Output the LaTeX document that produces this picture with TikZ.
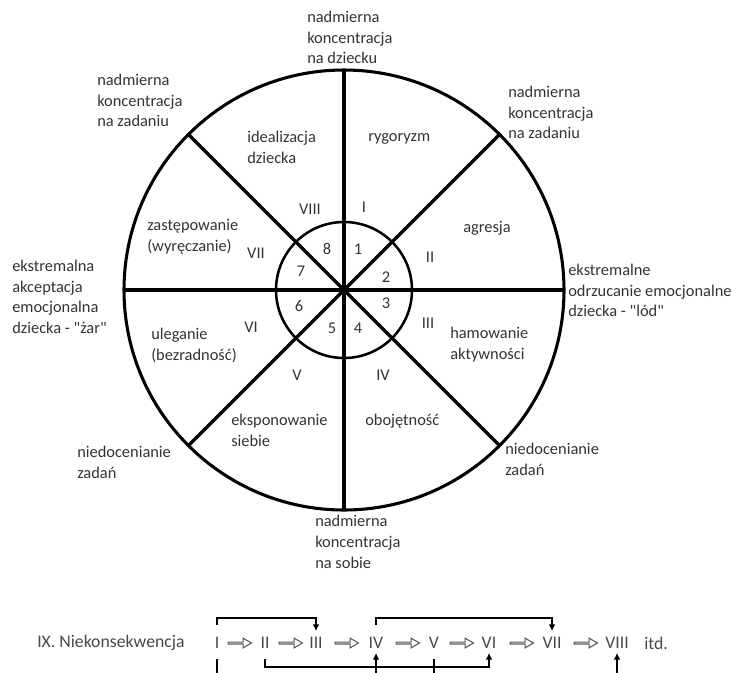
\documentclass[tikz,border=0pt]{standalone}
\usepackage{fontspec}
\setmainfont{Carlito}[Ligatures=TeXOff]
\usetikzlibrary{arrows.meta,shapes.arrows,calc}
\begin{document}
\begin{tikzpicture}[x=0.75pt,y=-0.75pt,
  lbl/.style={inner sep=0pt, anchor=north west, align=left, text=black!80,
    font=\fontsize{12.3}{15.5}\selectfont},
  num/.style={inner sep=0pt, text=black!80, font=\fontsize{12.3}{15.5}\selectfont},
  seq/.style={inner sep=0pt, text=black!72, font=\fontsize{13.3}{16}\selectfont},
  heavy/.style={line width=2.6pt},
  hollow/.style={single arrow, draw=black!65, fill=white, line width=0.8pt,
    minimum height=17.5pt, minimum width=7.3pt, single arrow head extend=1.6pt,
    single arrow tip angle=60, inner sep=0pt},
  bracket/.style={line width=0.9pt, -{Latex[length=5pt,width=5pt]}}
]
\useasboundingbox (0,0) rectangle (745,672);
\clip (0,0) rectangle (745,672);

% ---- wheel ----
\coordinate (O) at (344,290);
\draw[line width=2.3pt] (O) circle[radius=220];
\draw[line width=1.9pt] (O) circle[radius=68];
\coordinate (E) at ($(O)+(220,0)$);
\coordinate (W) at ($(O)+(-220,0)$);
\coordinate (N) at ($(O)+(0,-220)$);
\coordinate (S) at ($(O)+(0,220)$);
\coordinate (NE) at ($(O)+(155.6,-155.6)$);
\coordinate (SW) at ($(O)+(-155.6,155.6)$);
\coordinate (NW) at ($(O)+(-155.6,-155.6)$);
\coordinate (SE) at ($(O)+(155.6,155.6)$);
\draw[heavy] (W) -- (E);
\draw[heavy] (N) -- (S);
\draw[heavy] (NW) -- (SE);
\draw[heavy] (SW) -- (NE);

% ---- outer labels ----
\node[lbl] (top) at (307,11) {nadmierna\\koncentracja\\na dziecku};
\node[lbl] (ul) at (97,74) {nadmierna\\koncentracja\\na zadaniu};
\node[lbl] (ur) at (508,86) {nadmierna\\koncentracja\\na zadaniu};
\node[lbl] (lft) at (12,260) {ekstremalna\\akceptacja\\emocjonalna\\dziecka - "żar"};
\node[lbl] (rgt) at (568,264) {ekstremalne\\odrzucanie emocjonalne\\dziecka - "lód"};
\node[lbl] (ll) at (77,446) {niedocenianie\\zadań};
\node[lbl] (lr) at (505,443) {niedocenianie\\zadań};
\node[lbl] (bot) at (315,515) {nadmierna\\koncentracja\\na sobie};

% ---- sector labels ----
\node[lbl] (s8) at (247,131) {idealizacja\\dziecka};
\node[lbl] (s1) at (368,133) {rygoryzm};
\node[lbl] (s2) at (463,221) {agresja};
\node[lbl] (s7) at (147,219) {zastępowanie\\(wyręczanie)};
\node[lbl] (s6) at (151,328) {uleganie\\(bezradność)};
\node[lbl] (s3) at (450,327) {hamowanie\\aktywności};
\node[lbl] (s5) at (231,414) {eksponowanie\\siebie};
\node[lbl] (s4) at (365,414) {obojętność};

% ---- roman numerals ----
\node[num] (r8) at (310,209) {VIII};
\node[num] (r1) at (364,207) {I};
\node[num] (r2) at (430,257) {II};
\node[num] (r3) at (428,323) {III};
\node[num] (r4) at (383,375) {IV};
\node[num] (r5) at (297,375) {V};
\node[num] (r6) at (251,327) {VI};
\node[num] (r7) at (256,253) {VII};

% ---- inner numbers ----
\node[num] (i8) at (327,249) {8};
\node[num] (i1) at (358,249) {1};
\node[num] (i2) at (386,277) {2};
\node[num] (i3) at (386,303) {3};
\node[num] (i4) at (358,328) {4};
\node[num] (i5) at (332,328) {5};
\node[num] (i6) at (299,306) {6};
\node[num] (i7) at (301,271) {7};

% ---- sequence ----
\node[seq, anchor=west] (ix) at (37,643) {IX. Niekonsekwencja};
\node[seq] (n1) at (217,643) {I};
\node[seq] (n2) at (265,643) {II};
\node[seq] (n3) at (316,643) {III};
\node[seq] (n4) at (376,643) {IV};
\node[seq] (n5) at (434,643) {V};
\node[seq] (n6) at (489,643) {VI};
\node[seq] (n7) at (552,643) {VII};
\node[seq] (n8) at (617,643) {VIII};
\node[seq, anchor=west] (itd) at (644,643) {itd.};

\node[hollow] (a1) at (239,643) {};
\node[hollow] (a2) at (290,643) {};
\node[hollow] (a3) at (346,643) {};
\node[hollow] (a4) at (407,643) {};
\node[hollow] (a5) at (461,643) {};
\node[hollow] (a6) at (521,643) {};
\node[hollow] (a7) at (585,643) {};

\draw[bracket] ($(n1.north)+(0,-12)$) -- ++(0,-7) -| ($(n3.north)+(0,-6)$);
\draw[bracket] ($(n4.north)+(0,-12)$) -- ++(0,-7) -| ($(n7.north)+(0,-6)$);
\draw[bracket] ($(n2.south)+(0,10)$) -- ++(0,8) -| ($(n6.south)+(0,4)$);
\draw[bracket] ($(n1.south)+(0,10)$) -- ++(0,40) -| ($(n4.south)+(0,4)$);
\draw[bracket] ($(n5.south)+(0,10)$) -- ++(0,40) -| ($(n8.south)+(0,4)$);
\end{tikzpicture}
\end{document}
